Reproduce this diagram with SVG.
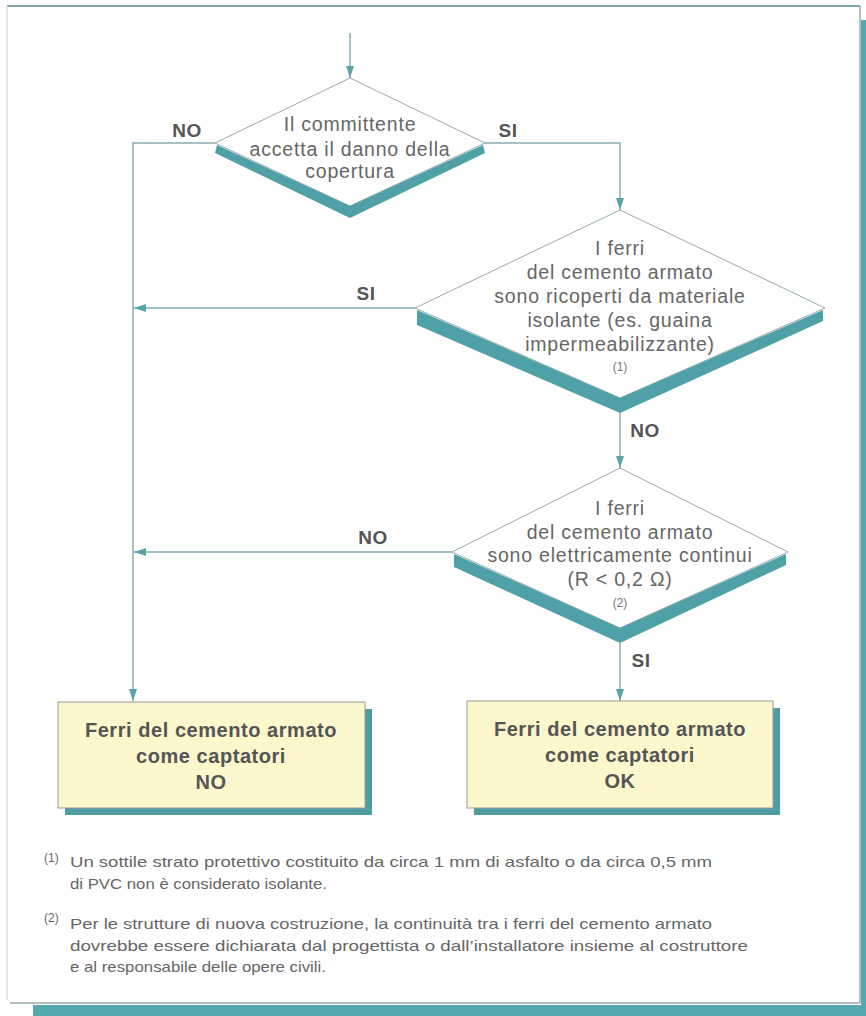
<svg xmlns="http://www.w3.org/2000/svg" width="866" height="1016" viewBox="0 0 866 1016">
<defs>
<style>
.dt{font-family:"Liberation Sans",Arial,sans-serif;font-size:19.5px;fill:#666;text-anchor:middle;letter-spacing:0.8px}
.sm{font-family:"Liberation Sans",Arial,sans-serif;font-size:12px;fill:#777;text-anchor:middle}
.lb{font-family:"Liberation Sans",Arial,sans-serif;font-size:19px;font-weight:bold;fill:#555;text-anchor:middle;letter-spacing:0.5px}
.bx{font-family:"Liberation Sans",Arial,sans-serif;font-size:20px;font-weight:bold;fill:#555;text-anchor:middle;letter-spacing:0.55px}
.fn{font-family:"Liberation Sans",Arial,sans-serif;font-size:14.5px;fill:#666}
.fs{font-family:"Liberation Sans",Arial,sans-serif;font-size:12px;fill:#666}
.dia{fill:#fff;stroke:#9aa;stroke-width:1}
.band{fill:#4fa1a7}
.box{fill:#fcf7cd;stroke:#999;stroke-width:1}
.shadow{fill:#4f9ca2}
.con{fill:none;stroke:#86aeb2;stroke-width:1.5}
</style>
<marker id="ah" viewBox="0 0 12 8" refX="12" refY="4" markerWidth="12" markerHeight="8" markerUnits="userSpaceOnUse" orient="auto">
<path d="M0,0 L12,4 L0,8 Z" fill="#5aa3a9"/>
</marker>
</defs>
<rect width="866" height="1016" fill="#fff"/>
<g id="frame">
<rect x="861" y="20" width="5" height="996" fill="#55a8ad"/>
<rect x="33" y="1005" width="833" height="11" fill="#55a8ad"/>
<line x1="7" y1="6" x2="860" y2="6" stroke="#7fa9ab" stroke-width="2"/>
<line x1="860" y1="6" x2="860" y2="1003" stroke="#9aa" stroke-width="1.5"/>
<line x1="10" y1="1003" x2="860" y2="1003" stroke="#9aa" stroke-width="1.5"/>
<line x1="7" y1="6" x2="7" y2="1000" stroke="#ddd" stroke-width="1.5"/>
</g>
<g id="connectors">
<line class="con" x1="350" y1="33" x2="350" y2="78" marker-end="url(#ah)"/>
<polyline class="con" points="215,143 133,143 133,701" marker-end="url(#ah)"/>
<polyline class="con" points="485,143 620,143 620,210" marker-end="url(#ah)"/>
<line class="con" x1="415" y1="308" x2="134" y2="308" marker-end="url(#ah)"/>
<line class="con" x1="620" y1="413" x2="620" y2="468" marker-end="url(#ah)"/>
<line class="con" x1="452" y1="552" x2="134" y2="552" marker-end="url(#ah)"/>
<line class="con" x1="620" y1="643" x2="620" y2="701" marker-end="url(#ah)"/>
<text class="lb" x="187" y="137">NO</text>
<text class="lb" x="508" y="137">SI</text>
<text class="lb" x="366" y="300">SI</text>
<text class="lb" x="645" y="437">NO</text>
<text class="lb" x="373" y="544">NO</text>
<text class="lb" x="641" y="667">SI</text>
</g>
<g id="d1">
<polygon class="dia" points="350,78 485,143 350,206 215,143"/>
<polygon class="band" points="217,145 350,206 483,145 485,153 350,218 215,153"/>
<text class="dt" x="350" y="131">Il committente</text>
<text class="dt" x="350" y="156">accetta il danno della</text>
<text class="dt" x="350" y="178">copertura</text>
</g>
<g id="d2">
<polygon class="dia" points="620,210 825,308 620,398 415,308"/>
<polygon class="band" points="417,310 620,398 823,310 823,321 620,413 417,325"/>
<text class="dt" x="620" y="255">I ferri</text>
<text class="dt" x="620" y="279">del cemento armato</text>
<text class="dt" x="620" y="303">sono ricoperti da materiale</text>
<text class="dt" x="620" y="327">isolante (es. guaina</text>
<text class="dt" x="620" y="351">impermeabilizzante)</text>
<text class="sm" x="620" y="371">(1)</text>
</g>
<g id="d3">
<polygon class="dia" points="620,468 788,552 620,628 452,552"/>
<polygon class="band" points="454,554 620,628 786,554 786,565 620,643 454,567"/>
<text class="dt" x="620" y="515">I ferri</text>
<text class="dt" x="620" y="539">del cemento armato</text>
<text class="dt" x="620" y="562">sono elettricamente continui</text>
<text class="dt" x="620" y="586">(R &lt; 0,2 Ω)</text>
<text class="sm" x="620" y="607">(2)</text>
</g>
<g id="box-no">
<rect class="shadow" x="65" y="709" width="307" height="106"/>
<rect class="box" x="58" y="702" width="307" height="106"/>
<text class="bx" x="211" y="737">Ferri del cemento armato</text>
<text class="bx" x="211" y="763">come captatori</text>
<text class="bx" x="211" y="789">NO</text>
</g>
<g id="box-ok">
<rect class="shadow" x="474" y="708" width="306" height="107"/>
<rect class="box" x="467" y="701" width="306" height="107"/>
<text class="bx" x="620" y="736">Ferri del cemento armato</text>
<text class="bx" x="620" y="762">come captatori</text>
<text class="bx" x="620" y="788">OK</text>
</g>
<g id="notes">
<text class="fs" x="44" y="862">(1)</text>
<text class="fn" x="70" y="867" textLength="642" lengthAdjust="spacingAndGlyphs">Un sottile strato protettivo costituito da circa 1 mm di asfalto o da circa 0,5 mm</text>
<text class="fn" x="70" y="889" textLength="257" lengthAdjust="spacingAndGlyphs">di PVC non è considerato isolante.</text>
<text class="fs" x="44" y="922">(2)</text>
<text class="fn" x="70" y="929" textLength="642" lengthAdjust="spacingAndGlyphs">Per le strutture di nuova costruzione, la continuità tra i ferri del cemento armato</text>
<text class="fn" x="70" y="951" textLength="678" lengthAdjust="spacingAndGlyphs">dovrebbe essere dichiarata dal progettista o dall’installatore insieme al costruttore</text>
<text class="fn" x="70" y="972" textLength="256" lengthAdjust="spacingAndGlyphs">e al responsabile delle opere civili.</text>
</g>
</svg>
